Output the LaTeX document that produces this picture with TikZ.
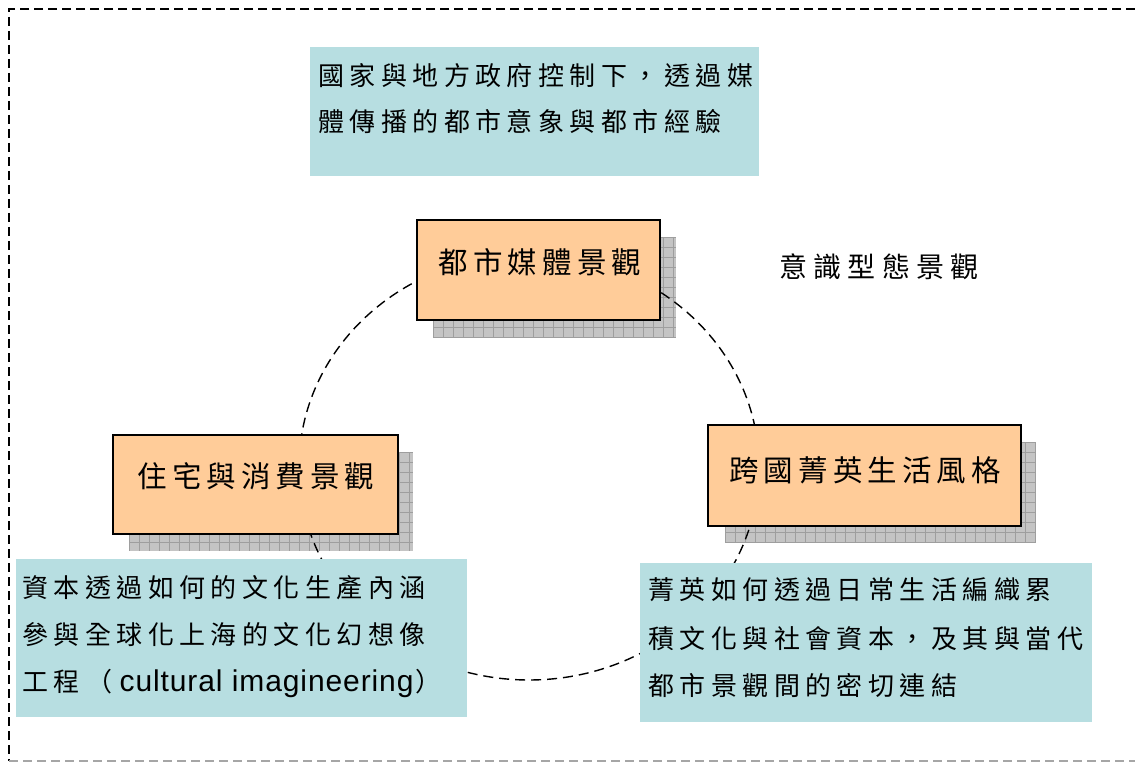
\documentclass[tikz,border=0pt]{standalone}
\usepackage{fontspec}
\newfontfamily\titlefont[LetterSpace=17]{Noto Sans CJK TC}
\newfontfamily\headfont[LetterSpace=22]{Noto Sans CJK TC}
\newfontfamily\notefont[LetterSpace=21]{Noto Sans CJK TC}
\newfontfamily\latfont[LetterSpace=3]{Liberation Sans}
\definecolor{peach}{HTML}{FFCC99}
\definecolor{notecyan}{HTML}{B7DEE1}
\definecolor{shadowgray}{HTML}{C4C4C4}
\definecolor{gridgray}{HTML}{9E9E9E}
\newcommand\gridshadow[4]{%
  \fill[shadowgray] (#1,#2) rectangle (#3,#4);
  \begin{scope}
    \clip (#1,#2) rectangle (#3,#4);
    \foreach \gi in {0,...,32} {\draw[gridgray, line width=0.8pt] ({#1+10*\gi},#2) -- ({#1+10*\gi},#4);}
    \foreach \gj in {0,...,11} {\draw[gridgray, line width=0.8pt] (#1,{#2+10*\gj}) -- (#3,{#2+10*\gj});}
  \end{scope}}
\begin{document}
\begin{tikzpicture}[x=1pt,y=-1pt,
  framedash/.style={line width=2pt, dash pattern=on 9pt off 5pt},
  ringdash/.style={line width=1.4pt, dash pattern=on 10pt off 6pt},
  titlebox/.style={draw=black, line width=2pt, fill=peach, inner sep=0pt},
  notebox/.style={fill=notecyan, draw=none, inner sep=0pt},
  titletext/.style={inner sep=0pt, anchor=base, font=\fontsize{29.5}{32}\titlefont},
  notetext/.style={inner sep=0pt, anchor=base west, font=\fontsize{26}{30}\notefont}]
\useasboundingbox (0,0) rectangle (1135,762);
% outer dashed frame
\draw[framedash, black] (1135,9) -- (9,9) -- (9,761);
\draw[framedash, gray!70, line width=1.5pt] (9,761) -- (1135,761);
% shadows
\gridshadow{433}{237}{676}{337}
\gridshadow{725}{442}{1036}{543}
\gridshadow{129}{452}{413}{551}
% ring
\draw[ringdash] (529,467) ellipse [x radius=230, y radius=213];
% title boxes
\node[titlebox, minimum width=243pt, minimum height=100pt] (mediabox) at (538.3,270) {};
\node[titlebox, minimum width=313pt, minimum height=101pt] (elitebox) at (864.5,475.5) {};
\node[titlebox, minimum width=285pt, minimum height=99pt] (housebox) at (255.5,484.5) {};
\node[titletext] (mediatext) at (540,273) {都市媒體景觀};
\node[titletext] (elitetext) at (865,481) {跨國菁英生活風格};
\node[titletext] (housetext) at (256,487) {住宅與消費景觀};
\node[titletext, font=\fontsize{28}{30}\headfont] (ideology) at (879,277) {意識型態景觀};
% note boxes
\node[notebox, minimum width=449pt, minimum height=129pt] (statenote) at (534.5,111.5) {};
\node[notebox, minimum width=451pt, minimum height=158pt] (capitalnote) at (241.5,638) {};
\node[notebox, minimum width=452pt, minimum height=159pt] (elitenote) at (866,642.5) {};
\node[notetext] (stateA) at (318,86) {國家與地方政府控制下，透過媒};
\node[notetext] (stateB) at (318,132) {體傳播的都市意象與都市經驗};
\node[notetext] (capitalA) at (22,597) {資本透過如何的文化生產內涵};
\node[notetext] (capitalB) at (22,644.5) {參與全球化上海的文化幻想像};
\node[notetext] (capitalC) at (22,691) {工程\hspace{7pt}（\hspace{7pt}{\fontsize{30}{32}\latfont cultural imagineering}\hspace{2pt}）};
\node[notetext] (eliteA) at (648,599.5) {菁英如何透過日常生活編織累};
\node[notetext] (eliteB) at (648,648) {積文化與社會資本，及其與當代};
\node[notetext] (eliteC) at (648,695) {都市景觀間的密切連結};
\end{tikzpicture}
\end{document}
